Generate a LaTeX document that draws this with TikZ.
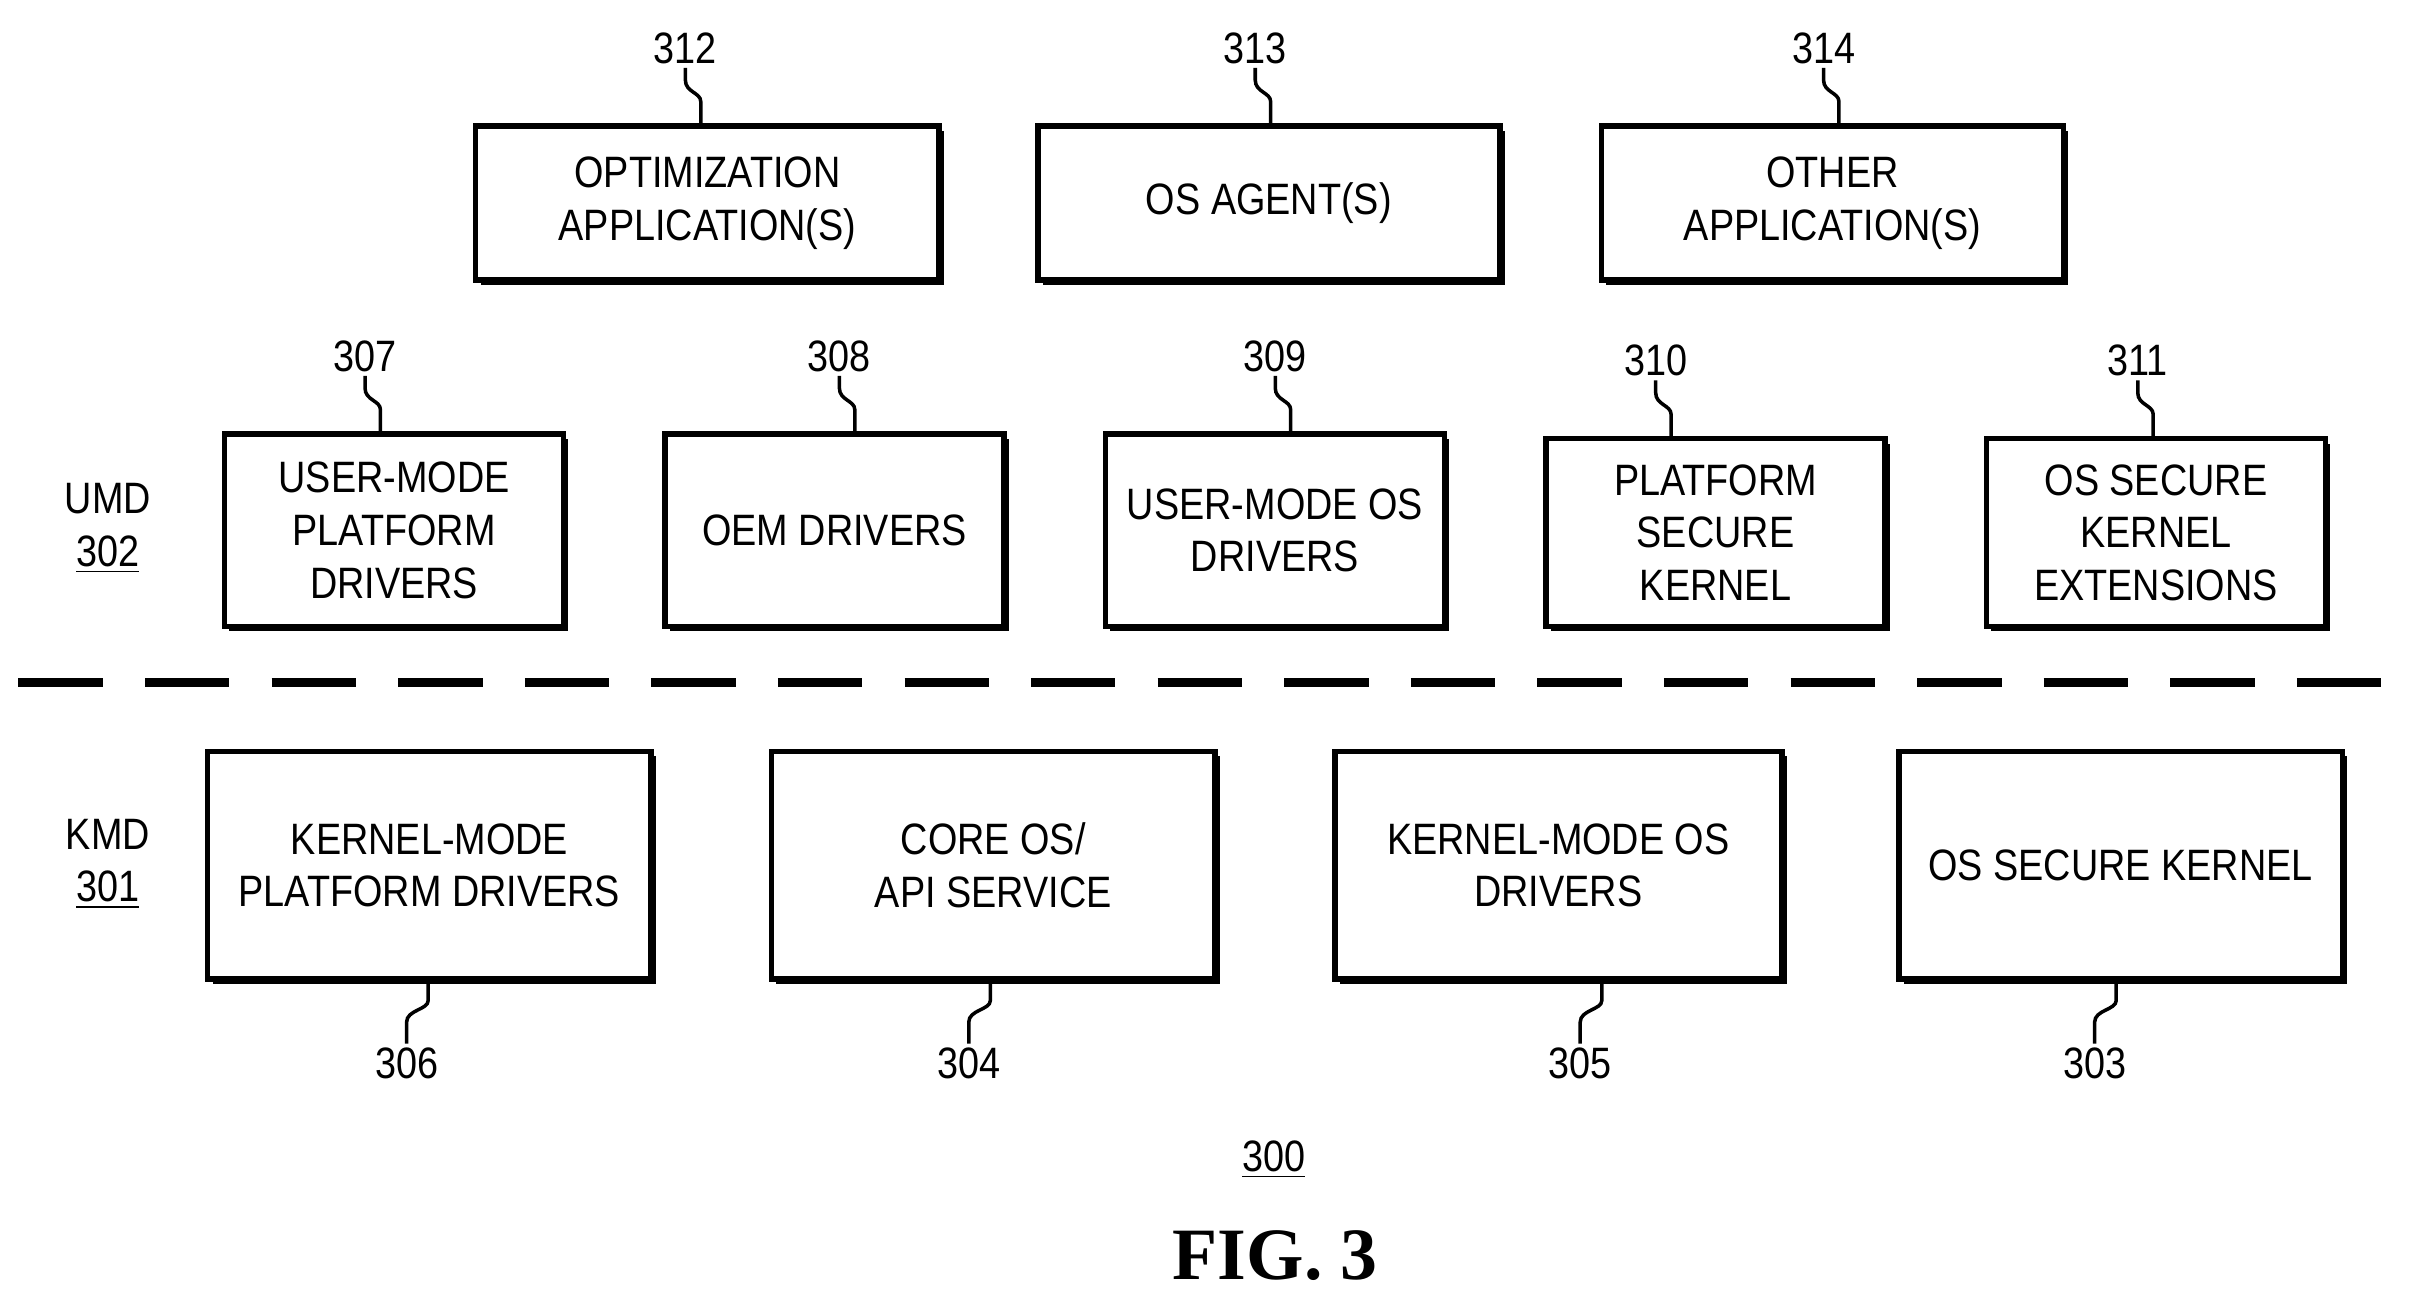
\documentclass[tikz,border=0pt]{standalone}
\usepackage{fontspec}
\setmainfont{Liberation Sans}[FakeStretch=0.86]
\newfontfamily\figfont{Liberation Serif}
\usetikzlibrary{calc,positioning}
\tikzset{
    blk/.style={draw,line width=1.6pt,fill=white,align=center,font=\fontsize{12.5}{15}\selectfont,inner sep=0pt},
    shd/.style={fill=black},
    ref/.style={font=\fontsize{12.5}{15}\selectfont,inner sep=1pt},
    lead/.style={line width=1pt}
}
\newcommand{\pbox}[6]{% name, x1, y1, x2, y2, text
    \fill[shd] (#2+5,#3+5) rectangle (#4+5,#5+5);
    \node[blk,minimum width={(#4-#2)*0.0154cm},minimum height={(#5-#3)*0.0154cm},anchor=north west] (#1) at (#2,#3) {#6};}
\begin{document}
\begin{tikzpicture}[x=0.0154cm,y=-0.0154cm]
    \useasboundingbox (0,0) rectangle (1568,844);
    % top row
    \pbox{oa}{307}{80}{608}{180}{OPTIMIZATION\\APPLICATION(S)}
    \pbox{osag}{672}{80}{972}{180}{OS AGENT(S)}
    \pbox{ota}{1038}{80}{1338}{180}{OTHER\\APPLICATION(S)}
    % user mode
    \pbox{umpd}{144}{280}{364}{405}{USER-MODE\\PLATFORM\\DRIVERS}
    \pbox{oem}{430}{280}{650}{405}{OEM DRIVERS}
    \pbox{umos}{716}{280}{936}{405}{USER-MODE OS\\DRIVERS}
    \pbox{psk}{1002}{283}{1222}{405}{PLATFORM\\SECURE\\KERNEL}
    \pbox{oske}{1288}{283}{1508}{405}{OS SECURE\\KERNEL\\EXTENSIONS}
    % kernel mode
    \pbox{kmpd}{133}{486}{421}{634}{KERNEL-MODE\\PLATFORM DRIVERS}
    \pbox{core}{499}{486}{787}{634}{CORE OS/\\API SERVICE}
    \pbox{kmos}{865}{486}{1155}{634}{KERNEL-MODE OS\\DRIVERS}
    \pbox{osk}{1231}{486}{1519}{634}{OS SECURE KERNEL}

    \draw[line width=2.6pt,dash pattern=on 24pt off 12pt] (12,443) coordinate (dl) -- (1555,443) coordinate (dr);

    % top references
    \foreach \n/\x/\l in {oa/455/312,osag/825/313,ota/1194/314,umpd/247/307,oem/555/308,umos/838/309,psk/1085/310,oske/1398/311}{
        \draw[lead] (\n.north -| \x,0) -- ++(0,-14) .. controls ++(0,-6) and ++(0,8) .. ++(-10,-14) -- ++(0,-8) coordinate (t\l);
        \node[ref,anchor=south] at (t\l) {\l};
    }
    % bottom references
    \foreach \n/\x/\l in {kmpd/278/306,core/643/304,kmos/1040/305,osk/1374/303}{
        \draw[lead] (\n.south -| \x,0) -- ++(0,12) .. controls ++(0,6) and ++(0,-8) .. ++(-14,14) -- ++(0,14) coordinate (b\l);
        \node[ref,anchor=north] at (b\l) {\l};
    }

    \node[ref,align=center] (umd) at (70,343) {UMD\\\underline{302}};
    \node[ref,align=center] (kmd) at (70,561) {KMD\\\underline{301}};
    \node[ref] (fig) at (827,753) {\underline{300}};
    \node[font=\figfont\bfseries\fontsize{21}{24}\selectfont] (cap) at (828,815) {FIG. 3};
\end{tikzpicture}
\end{document}
